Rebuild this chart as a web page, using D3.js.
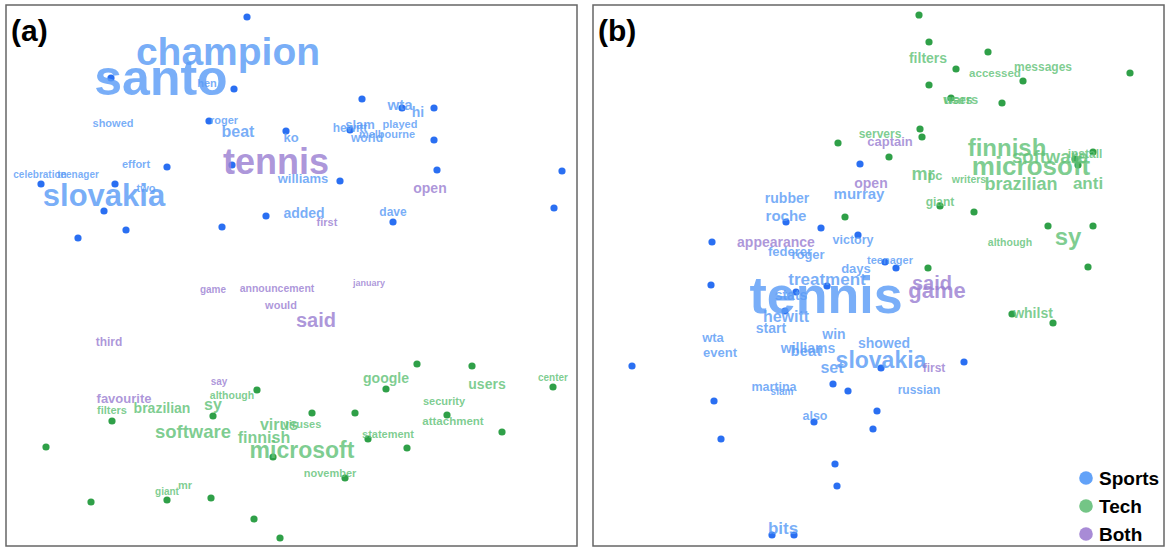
<!DOCTYPE html>
<html>
<head>
<meta charset="utf-8">
<script src="https://cdn.jsdelivr.net/npm/d3@7"></script>
<style>
  body { margin: 0; background: #fff; }
  text { font-family: "Liberation Sans", Arial, Helvetica, sans-serif; font-weight: bold; }
</style>
</head>
<body>
<div id="chart"></div>
<script>
//DATA
// word: [text, x, y, weight, group]  group: s = sports, t = tech, b = both
const categories = ["Sports", "Tech", "Both"];
const groupKeys  = ["s", "t", "b"];

const wordsA = [
  ["champion", 44.4, 96.2, 78, "s"], ["santo", 31.0, 90.2, 100, "s"], ["hen", 40.2, 91.8, 22, "s"],
  ["showed", 21.4, 83.8, 22, "s"], ["roger", 43.6, 84.4, 22, "s"], ["beat", 46.4, 81.8, 32, "s"],
  ["ko", 57.0, 80.8, 26, "s"], ["tennis", 54.0, 74.4, 72, "b"], ["williams", 59.4, 72.6, 26, "s"],
  ["effort", 26.0, 75.6, 22, "s"], ["celebration", 6.8, 73.6, 20, "s"], ["teenager", 14.4, 73.6, 20, "s"],
  ["slovakia", 19.6, 68.0, 62, "s"], ["two", 28.0, 70.8, 22, "s"], ["added", 59.6, 65.6, 28, "s"],
  ["first", 64.2, 64.0, 22, "b"], ["dave", 77.4, 66.0, 24, "s"], ["open", 84.8, 70.6, 28, "b"],
  ["wta", 78.8, 87.2, 30, "s"], ["hi", 82.4, 85.8, 28, "s"], ["slam", 70.8, 83.4, 26, "s"],
  ["played", 78.8, 83.6, 22, "s"], ["hewitt", 68.8, 82.8, 24, "s"], ["world", 72.2, 80.8, 24, "s"],
  ["melbourne", 76.2, 81.6, 22, "s"], ["game", 41.4, 50.6, 20, "b"], ["announcement", 54.2, 50.8, 21, "b"],
  ["january", 72.6, 52.0, 18, "b"], ["would", 55.0, 47.4, 22, "b"], ["said", 62.0, 43.8, 40, "b"],
  ["third", 20.6, 40.0, 24, "b"], ["say", 42.6, 32.2, 20, "b"], ["although", 45.2, 29.4, 21, "t"],
  ["favourite", 23.6, 28.6, 26, "b"], ["filters", 21.2, 26.4, 22, "t"], ["brazilian", 31.2, 26.6, 28, "t"],
  ["sy", 41.4, 27.2, 32, "t"], ["software", 37.4, 21.6, 37, "t"], ["virus", 54.6, 23.2, 32, "t"],
  ["viruses", 59.2, 23.6, 22, "t"], ["finnish", 51.6, 20.6, 32, "t"], ["microsoft", 59.2, 17.6, 46, "t"],
  ["google", 76.0, 32.6, 28, "t"], ["users", 96.2, 31.4, 28, "t"], ["center", 109.4, 33.0, 20, "t"],
  ["security", 87.6, 28.2, 22, "t"], ["attachment", 89.4, 24.2, 23, "t"], ["statement", 76.4, 21.6, 22, "t"],
  ["november", 64.8, 13.8, 22, "t"], ["giant", 32.2, 10.2, 20, "t"], ["mr", 35.8, 11.4, 22, "t"]
];

const dotsA = [
  [48.2, 105.8, "s"], [21.0, 93.6, "s"], [45.6, 91.4, "s"], [40.6, 85.0, "s"], [56.0, 83.0, "s"],
  [45.2, 76.2, "s"], [32.2, 75.8, "s"], [7.0, 72.4, "s"], [21.8, 72.4, "s"], [71.2, 89.4, "s"],
  [79.2, 87.6, "s"], [85.6, 87.6, "s"], [68.8, 83.2, "s"], [85.6, 81.2, "s"], [86.2, 75.2, "s"],
  [111.2, 75.0, "s"], [66.8, 73.0, "s"], [19.6, 67.0, "s"], [14.4, 61.6, "s"], [24.0, 63.2, "s"],
  [43.2, 63.8, "s"], [52.0, 66.0, "s"], [77.4, 64.8, "s"], [109.6, 67.6, "s"],
  [82.2, 36.4, "t"], [93.2, 36.0, "t"], [50.2, 31.2, "t"], [21.2, 25.0, "t"], [41.4, 26.0, "t"],
  [8.0, 19.8, "t"], [53.4, 17.8, "t"], [17.0, 8.8, "t"], [32.2, 9.2, "t"], [41.0, 9.6, "t"],
  [49.6, 5.4, "t"], [54.8, 1.6, "t"], [76.0, 31.4, "t"], [61.2, 26.6, "t"], [69.8, 26.6, "t"],
  [72.4, 21.4, "t"], [80.2, 19.6, "t"], [88.2, 26.2, "t"], [99.2, 22.8, "t"], [109.4, 31.8, "t"],
  [67.8, 13.6, "t"]
];

const wordsB = [
  ["filters", 67.0, 96.6, 28, "t"], ["accessed", 80.4, 93.8, 23, "t"], ["messages", 90.0, 95.0, 24, "t"],
  ["users", 73.6, 88.4, 26, "t"], ["wars", 73.0, 88.4, 26, "t"], ["servers", 57.4, 81.6, 24, "t"],
  ["captain", 59.4, 80.0, 26, "b"], ["open", 55.6, 71.6, 28, "b"], ["finnish", 82.8, 78.0, 48, "t"],
  ["microsoft", 87.6, 74.2, 52, "t"], ["software", 91.4, 76.6, 37, "t"], ["install", 98.4, 77.6, 24, "t"],
  ["mr", 66.0, 73.2, 36, "t"], ["pc", 68.4, 73.2, 26, "t"], ["writers", 75.2, 72.6, 21, "t"],
  ["brazilian", 85.6, 71.2, 36, "t"], ["anti", 99.0, 71.4, 34, "t"], ["giant", 69.4, 68.0, 24, "t"],
  ["although", 83.4, 60.0, 21, "t"], ["sy", 95.0, 60.2, 48, "t"], ["whilst", 88.0, 45.6, 28, "t"],
  ["said", 67.8, 51.2, 40, "b"], ["game", 68.8, 49.6, 44, "b"], ["teenager", 59.4, 56.4, 22, "s"],
  ["rubber", 38.8, 68.6, 28, "s"], ["murray", 53.2, 69.4, 30, "s"], ["roche", 38.6, 65.0, 30, "s"],
  ["appearance", 36.6, 59.8, 28, "b"], ["victory", 52.0, 60.4, 25, "s"], ["federer", 39.4, 58.0, 26, "s"],
  ["roger", 43.0, 57.4, 26, "s"], ["days", 52.6, 54.6, 26, "s"], ["treatment", 46.8, 52.2, 34, "s"],
  ["tennis", 46.6, 46.6, 104, "s"], ["stats", 39.6, 49.2, 28, "s"], ["hewitt", 38.6, 44.8, 32, "s"],
  ["start", 35.6, 42.6, 28, "s"], ["win", 48.2, 41.4, 28, "s"], ["showed", 58.2, 39.6, 28, "s"],
  ["wta", 24.0, 40.8, 26, "s"], ["event", 25.4, 37.8, 26, "s"], ["williams", 43.0, 38.6, 28, "s"],
  ["beat", 42.6, 38.0, 30, "s"], ["slovakia", 57.6, 35.6, 46, "s"], ["set", 47.8, 34.6, 32, "s"],
  ["first", 68.2, 34.8, 24, "b"], ["russian", 65.2, 30.4, 24, "s"], ["martina", 36.2, 31.0, 25, "s"],
  ["slam", 37.8, 30.2, 20, "s"], ["also", 44.4, 25.2, 25, "s"], ["bits", 38.0, 2.4, 34, "s"]
];

const dotsB = [
  [65.2, 106.2, "t"], [67.2, 100.8, "t"], [79.0, 98.8, "t"], [72.6, 95.4, "t"], [107.4, 94.6, "t"],
  [86.0, 93.0, "t"], [67.2, 92.2, "t"], [71.6, 89.6, "t"], [81.8, 88.6, "t"], [65.4, 83.4, "t"],
  [65.8, 81.8, "t"], [49.0, 80.6, "t"], [59.2, 77.8, "t"], [100.0, 78.8, "t"], [97.0, 76.2, "t"],
  [96.4, 77.4, "t"], [69.4, 68.0, "t"], [76.2, 66.8, "t"], [91.0, 64.0, "t"], [100.0, 64.0, "t"],
  [67.0, 55.6, "t"], [99.0, 55.8, "t"], [83.8, 46.4, "t"], [92.0, 44.6, "t"], [50.4, 65.8, "t"],
  [53.4, 76.4, "s"], [38.6, 64.8, "s"], [45.6, 63.6, "s"], [23.8, 60.8, "s"], [53.0, 62.2, "s"],
  [58.4, 56.8, "s"], [60.6, 55.6, "s"], [23.6, 52.2, "s"], [46.8, 52.0, "s"], [40.6, 50.8, "s"],
  [38.4, 47.0, "s"], [7.8, 36.0, "s"], [57.6, 35.6, "s"], [74.2, 36.8, "s"], [24.2, 29.0, "s"],
  [48.0, 32.4, "s"], [51.0, 31.0, "s"], [56.8, 27.0, "s"], [44.2, 24.8, "s"], [56.0, 23.4, "s"],
  [25.6, 21.4, "s"], [48.4, 16.4, "s"], [48.8, 12.0, "s"], [35.8, 2.2, "s"], [40.2, 2.2, "s"]
];

//COLOURS
const textColor   = {s: "#5b9cf6", t: "#62c278", b: "#9b80d2"};
const dotColor    = {s: "#2a6ff2", t: "#2fa048", b: "#9b80d2"};
const legendColor = {s: "#62a2f8", t: "#74c586", b: "#a88bd6"};

//LAYOUT
const W = 1167, H = 548;
const panelTop = 5, panelH = 541, panelW = 571;
const panels = [
  {label: "(a)", left: 6,   words: wordsA, dots: dotsA},
  {label: "(b)", left: 593, words: wordsB, dots: dotsB}
];

const svg = d3.select("#chart").append("svg")
  .attr("width", W).attr("height", H);

const fontSize = d3.scaleLinear().domain([0, 100]).range([0, 50]);

panels.forEach((p, i) => {
  const x = d3.scaleLinear().domain([0, 114.2]).range([p.left, p.left + panelW]);
  const y = d3.scaleLinear().domain([0, 108.2]).range([panelTop + panelH, panelTop]);
  const g = svg.append("g");

  g.append("rect")
    .attr("x", p.left).attr("y", panelTop)
    .attr("width", panelW).attr("height", panelH)
    .attr("fill", "none").attr("stroke", "#666").attr("stroke-width", 1.5);

  g.append("g").selectAll("circle").data(p.dots)
    .join("circle")
      .attr("cx", d => x(d[0]))
      .attr("cy", d => y(d[1]))
      .attr("r", 3.6)
      .attr("fill", d => dotColor[d[2]]);

  g.append("g").selectAll("text").data(p.words)
    .join("text")
      .attr("x", d => x(d[1]))
      .attr("y", d => y(d[2]))
      .attr("text-anchor", "middle")
      .attr("font-size", d => fontSize(d[3]))
      .attr("fill", d => textColor[d[4]])
      .attr("fill-opacity", 0.82)
      .text(d => d[0]);

  g.append("text")
    .attr("x", p.left + 5).attr("y", 41)
    .attr("font-size", 30)
    .attr("fill", "#000")
    .text(p.label);

  //Legend only in panel b
  if (i === 1) {
    const leg = g.append("g").selectAll("g").data(categories)
      .join("g")
        .attr("transform", (d, j) => `translate(${x(98.6)},${y(13.6) + j * 28})`);
    leg.append("circle")
      .attr("r", 6.8)
      .attr("fill", (d, j) => legendColor[groupKeys[j]]);
    leg.append("text")
      .attr("x", 13).attr("y", 7)
      .attr("font-size", 19)
      .attr("fill", "#000")
      .text(d => d);
  }
});
</script>
</body>
</html>
